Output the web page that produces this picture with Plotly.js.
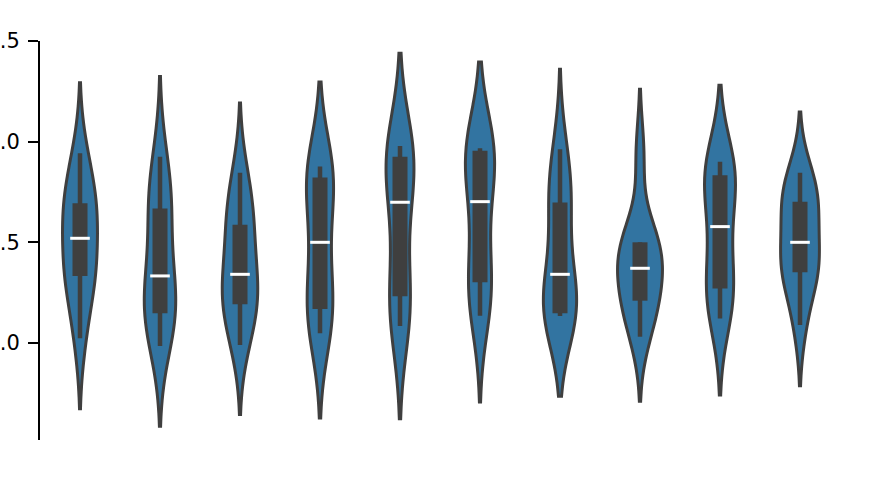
<!DOCTYPE html>
<html>
<head>
<meta charset="utf-8">
<script src="https://cdn.plot.ly/plotly-3.0.1.min.js"></script>
<style>
  html, body { margin: 0; padding: 0; background: #fff; }
  #graph { width: 880px; height: 480px; }
</style>
</head>
<body>
<div id="graph"></div>
<script>
/* ----- Data (10 samples per group) ----- */
var groups = ['0', '1', '2', '3', '4', '5', '6', '7', '8', '9'];

var g0 = [1.023, 1.24, 1.325, 1.355, 1.48, 1.56, 1.67, 1.702, 1.78, 1.942];
var g1 = [0.985, 1.12, 1.13, 1.20, 1.30, 1.366, 1.60, 1.69, 1.75, 1.925];
var g2 = [0.990, 1.13, 1.17, 1.26, 1.31, 1.372, 1.56, 1.596, 1.70, 1.846];
var g3 = [1.048, 1.14, 1.145, 1.24, 1.42, 1.58, 1.80, 1.83, 1.845, 1.876];
var g4 = [1.084, 1.15, 1.20, 1.33, 1.62, 1.778, 1.90, 1.933, 1.95, 1.978];
var g5 = [1.135, 1.25, 1.28, 1.364, 1.62, 1.784, 1.95, 1.957, 1.96, 1.967];
var g6 = [1.134, 1.14, 1.145, 1.155, 1.30, 1.382, 1.65, 1.713, 1.80, 1.962];
var g7 = [1.031, 1.15, 1.19, 1.27, 1.35, 1.392, 1.50, 1.50, 1.50, 1.94];
var g8 = [1.122, 1.22, 1.25, 1.334, 1.50, 1.656, 1.80, 1.844, 1.87, 1.900];
var g9 = [1.089, 1.30, 1.34, 1.384, 1.46, 1.54, 1.68, 1.709, 1.76, 1.846];

var samples = [g0, g1, g2, g3, g4, g5, g6, g7, g8, g9];

/* ----- Styles ----- */
var FILL = '#3274a1';
var DARK = '#3f3f3f';

/* ----- Stats helpers (numpy-style linear percentiles, scott bandwidth) ----- */
function percentile(sorted, p) {
    var pos = (sorted.length - 1) * p;
    var lo = Math.floor(pos);
    var hi = Math.ceil(pos);
    return sorted[lo] + (sorted[hi] - sorted[lo]) * (pos - lo);
}

function scottBandwidth(arr) {
    var n = arr.length;
    var mean = arr.reduce(function(a, b) { return a + b; }, 0) / n;
    var ss = arr.reduce(function(a, b) { return a + (b - mean) * (b - mean); }, 0);
    var sd = Math.sqrt(ss / (n - 1));
    return sd * Math.pow(n, -0.2);
}

function boxStats(arr) {
    var s = arr.slice().sort(function(a, b) { return a - b; });
    var q1 = percentile(s, 0.25);
    var med = percentile(s, 0.5);
    var q3 = percentile(s, 0.75);
    var lim = 1.5 * (q3 - q1);
    var inside = s.filter(function(v) { return v >= q1 - lim && v <= q3 + lim; });
    return { q1: q1, med: med, q3: q3, lo: inside[0], hi: inside[inside.length - 1] };
}

/* ----- Traces ----- */
var data = [];

// no trace.width here: plotly ignores scalegroup when width is set
samples.forEach(function(arr, i) {
    data.push({
        type: 'violin',
        x: arr.map(function() { return groups[i]; }),
        y: arr,
        name: groups[i],
        points: false,
        box: { visible: false },
        meanline: { visible: false },
        spanmode: 'soft',
        bandwidth: scottBandwidth(arr),
        scalegroup: 'all',
        scalemode: 'count',
        fillcolor: FILL,
        line: { color: DARK, width: 3 },
        hoverinfo: 'skip'
    });
});

var whiskX = [], whiskY = [], boxX = [], boxY = [], medX = [], medY = [];
samples.forEach(function(arr, i) {
    var st = boxStats(arr);
    whiskX.push(groups[i], groups[i], null);
    whiskY.push(st.lo, st.hi, null);
    boxX.push(groups[i], groups[i], null);
    boxY.push(st.q1, st.q3, null);
    medX.push(groups[i]);
    medY.push(st.med);
});

data.push({
    type: 'scatter', mode: 'lines', x: whiskX, y: whiskY,
    line: { color: DARK, width: 4.5 }, hoverinfo: 'skip'
});
data.push({
    type: 'scatter', mode: 'lines', x: boxX, y: boxY,
    line: { color: DARK, width: 15 }, hoverinfo: 'skip'
});
data.push({
    type: 'scatter', mode: 'markers', x: medX, y: medY,
    marker: { symbol: 'line-ew', size: 14, color: 'white', line: { color: 'white', width: 3 } },
    hoverinfo: 'skip'
});

var layout = {
    width: 880,
    height: 480,
    showlegend: false,
    violinmode: 'overlay',
    violingap: 0.2,
    paper_bgcolor: 'white',
    plot_bgcolor: 'white',
    margin: { l: 40, r: 40, t: 41, b: 40 },
    xaxis: {
        type: 'category',
        categoryarray: groups,
        range: [-0.5, 9.5],
        visible: false
    },
    yaxis: {
        range: [0.518, 2.5],
        tickvals: [1.0, 1.5, 2.0, 2.5],
        tickformat: '.1f',
        showgrid: false,
        zeroline: false,
        showline: true,
        linecolor: 'black',
        linewidth: 2,
        ticks: 'outside',
        ticklen: 10,
        tickwidth: 2,
        tickcolor: 'black',
        ticklabelstandoff: 4,
        tickfont: { family: 'DejaVu Sans', size: 21, color: 'black' }
    }
};

Plotly.newPlot('graph', data, layout, { staticPlot: true });
</script>
</body>
</html>
